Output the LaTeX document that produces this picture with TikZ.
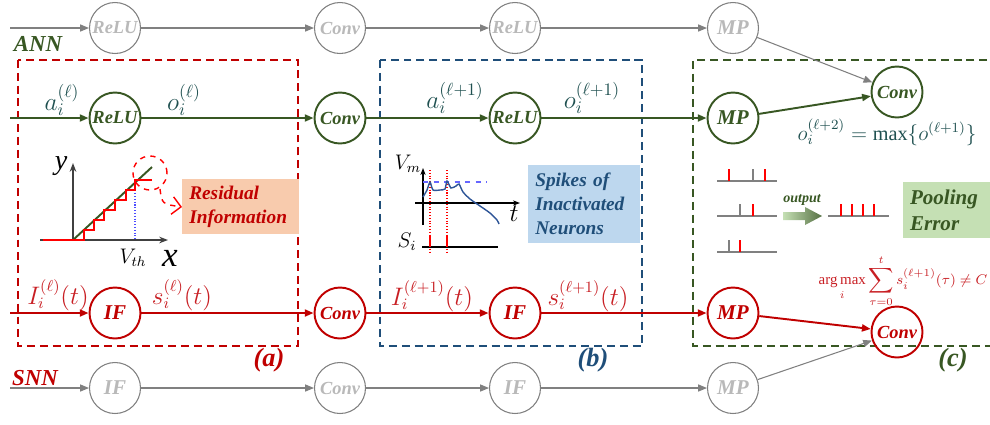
\documentclass[tikz,border=0pt]{standalone}
\usepackage{fontspec}
\setmainfont{Liberation Serif}
\definecolor{annc}{RGB}{56,87,35}
\definecolor{annt}{HTML}{1F5050}
\definecolor{snnc}{RGB}{192,0,0}
\definecolor{snnt}{RGB}{200,30,35}
\definecolor{greyl}{RGB}{128,128,128}
\definecolor{greyt}{RGB}{185,185,185}
\definecolor{boxblue}{RGB}{31,78,121}
\definecolor{peach}{RGB}{248,203,173}
\definecolor{paleblue}{RGB}{189,215,238}
\definecolor{palegreen}{RGB}{197,224,180}
\definecolor{curveblue}{RGB}{46,85,151}
\usetikzlibrary{arrows.meta,positioning,shapes.geometric}
\tikzset{
  neuron/.style={circle, minimum size=1.02cm, inner sep=0pt,
    font=\bfseries\itshape\fontsize{10.5}{12}\selectfont},
  annnode/.style={neuron, draw=annc, line width=1.1pt, text=annc},
  snnnode/.style={neuron, draw=snnc, line width=1.1pt, text=snnc},
  ghost/.style={neuron, draw=greyl, line width=0.6pt, text=greyt},
  aarrow/.style={-{Triangle[length=5pt,width=4pt]}, annc, line width=1.1pt},
  sarrow/.style={-{Triangle[length=5pt,width=4pt]}, snnc, line width=1.1pt},
  garrow/.style={-{Triangle[length=5pt,width=4pt]}, greyl, line width=0.6pt},
  dashbox/.style={dash pattern=on 4.5pt off 2.8pt, line width=1.2pt},
  tag/.style={inner sep=0pt, font=\bfseries\itshape\fontsize{13}{15}\selectfont},
  alab/.style={inner sep=0pt, text=annt, font=\fontsize{14}{16}\selectfont},
  slab/.style={inner sep=0pt, text=snnt, font=\fontsize{13.5}{16}\selectfont},
  note/.style={inner sep=4pt, align=left, font=\bfseries\itshape\fontsize{11}{13.5}\selectfont},
  spk/.style={line width=1.1pt}
}
\begin{document}
\begin{tikzpicture}[x=0.02cm,y=-0.02cm]
  \useasboundingbox (0,0) rectangle (990,424);
  % dashed regions
  \draw[dashbox,snnc] (18,60) rectangle (298,346);
  \draw[dashbox,boxblue] (380,60) rectangle (642,346);
  \draw[dashbox,annc] (1000,60) -- (693,60) -- (693,346) -- (1000,346);
  \node[tag,text=snnc,font=\bfseries\itshape\fontsize{15}{17}\selectfont] (taga) at (269,360) {(a)};
  \node[tag,text=boxblue,font=\bfseries\itshape\fontsize{15}{17}\selectfont] (tagb) at (593,360) {(b)};
  \node[tag,text=annc,font=\bfseries\itshape\fontsize{15}{17}\selectfont] (tagc) at (953,360) {(c)};
  \node[tag,text=annc] (ann) at (38,44) {ANN};
  \node[tag,text=snnc] (snn) at (35,378) {SNN};

  % ANN, converted copy (grey)
  \coordinate (g0) at (10,28);
  \node[ghost] (g1) at (115,28) {ReLU};
  \node[ghost] (g2) at (340,28) {Conv};
  \node[ghost] (g3) at (515,28) {ReLU};
  \node[ghost,font=\bfseries\itshape\fontsize{12}{14}\selectfont] (g4) at (733,28) {MP};
  % ANN
  \coordinate (a0) at (10,118);
  \node[annnode] (a1) at (115,118) {ReLU};
  \node[annnode] (a2) at (340,118) {Conv};
  \node[annnode] (a3) at (515,118) {ReLU};
  \node[annnode,font=\bfseries\itshape\fontsize{12}{14}\selectfont] (a4) at (733,118) {MP};
  \node[annnode] (a5) at (897,92) {Conv};
  % SNN
  \coordinate (s0) at (10,313);
  \node[snnnode,font=\bfseries\itshape\fontsize{12}{14}\selectfont] (s1) at (115,313) {IF};
  \node[snnnode] (s2) at (340,313) {Conv};
  \node[snnnode,font=\bfseries\itshape\fontsize{12}{14}\selectfont] (s3) at (515,313) {IF};
  \node[snnnode,font=\bfseries\itshape\fontsize{12}{14}\selectfont] (s4) at (733,313) {MP};
  \node[snnnode] (s5) at (897,332) {Conv};
  % SNN, grey copy
  \coordinate (b0) at (10,388);
  \node[ghost,font=\bfseries\itshape\fontsize{12}{14}\selectfont] (b1) at (115,388) {IF};
  \node[ghost] (b2) at (340,388) {Conv};
  \node[ghost,font=\bfseries\itshape\fontsize{12}{14}\selectfont] (b3) at (515,388) {IF};
  \node[ghost,font=\bfseries\itshape\fontsize{12}{14}\selectfont] (b4) at (733,388) {MP};

  \draw[garrow](g0)--(g1);\draw[garrow](g1)--(g2);\draw[garrow](g2)--(g3);\draw[garrow](g3)--(g4);\draw[garrow](g4)--(a5);
  \draw[aarrow](a0)--(a1);\draw[aarrow](a1)--(a2);\draw[aarrow](a2)--(a3);\draw[aarrow](a3)--(a4);\draw[aarrow](a4)--(a5);
  \draw[sarrow](s0)--(s1);\draw[sarrow](s1)--(s2);\draw[sarrow](s2)--(s3);\draw[sarrow](s3)--(s4);\draw[sarrow](s4)--(s5);
  \draw[garrow](b0)--(b1);\draw[garrow](b1)--(b2);\draw[garrow](b2)--(b3);\draw[garrow](b3)--(b4);\draw[garrow](b4)--(s5);

  % signal labels
  \node[alab] (la1) at (62,100) {$a_i^{(\ell)}$};
  \node[alab] (lo1) at (184,100) {$o_i^{(\ell)}$};
  \node[alab] (la2) at (455,98) {$a_i^{(\ell+1)}$};
  \node[alab] (lo2) at (592,98) {$o_i^{(\ell+1)}$};
  \node[slab] (li1) at (58,295) {$I_i^{(\ell)}(t)$};
  \node[slab] (ls1) at (182,295) {$s_i^{(\ell)}(t)$};
  \node[slab] (li2) at (432,296) {$I_i^{(\ell+1)}(t)$};
  \node[slab] (ls2) at (588,296) {$s_i^{(\ell+1)}(t)$};
  \node[alab,font=\fontsize{11.5}{14}\selectfont] (omax) at (887,132) {$o_i^{(\ell+2)}=\max\{o^{(\ell+1)}\}$};
  \node[slab,font=\fontsize{8.5}{10}\selectfont] (argm) at (903,281)
    {$\displaystyle\mathop{\arg\max}\limits_i\sum_{\tau=0}^{t}s_i^{(\ell+1)}(\tau)\neq C$};

  % (a) quantization graph
  \draw[-{Stealth[length=5pt]},black!75,line width=0.9pt] (40,240) -- (168,240);
  \draw[-{Stealth[length=5pt]},black!75,line width=0.9pt] (73,240) -- (73,163);
  \node[inner sep=0pt,font=\itshape\fontsize{16}{18}\selectfont] (ly) at (61,166) {y};
  \node[inner sep=0pt,font=\itshape\fontsize{20}{22}\selectfont] (lx) at (170,258) {x};
  \node[inner sep=0pt,font=\fontsize{12}{14}\selectfont] (lvth) at (133,258) {$V_{th}$};
  \draw[blue!70,densely dotted,line width=0.6pt] (135,182) -- (135,240);
  \draw[annc,line width=1.1pt] (73,240) -- (152,167);
  \draw[red,line width=1.1pt] (43,240) -- (84,240) -- (84,230) -- (94,230) -- (94,220) -- (104,220)
    -- (104,210) -- (115,210) -- (115,200) -- (126,200) -- (126,190) -- (135,190) -- (135,180) -- (152,180);
  \draw[red,dashed,line width=0.8pt] (150,173) circle[radius=0.34cm];
  \draw[red,dashed,line width=0.8pt,-{Straight Barb[length=5pt]}] (160,189) .. controls (162,204) .. (182,207);
  \node[note,fill=peach,text=snnc,minimum width=2.3cm,minimum height=1.1cm,text width=2.05cm] (resid) at (240.5,206.5) {Residual\\Information};

  % (b) membrane potential
  \draw[-{Stealth[length=4pt]},black,line width=0.8pt] (423,225) -- (423,168);
  \draw[-{Stealth[length=4pt]},black,line width=0.8pt] (415,203) -- (520,203);
  \draw[blue!60,dashed,line width=0.6pt] (423,182) -- (487,182);
  \draw[red,densely dotted,line width=0.6pt] (430,170) -- (430,253);
  \draw[red,densely dotted,line width=0.6pt] (447,170) -- (447,253);
  \draw[curveblue,line width=0.8pt] plot[smooth,tension=0.4] coordinates {(423,197) (427,190) (430,182) (433,190)
    (440,190) (445,189) (447,181) (451,188) (456,186) (459,184) (463,192) (470,199) (480,206) (490,213) (497,220) (499,224)};
  \draw[black,line width=0.8pt] (422,247) -- (498,247);
  \draw[red,spk] (430,235) -- (430,247);
  \draw[red,spk] (447,235) -- (447,247);
  \node[inner sep=0pt,font=\fontsize{12}{14}\selectfont] (lvm) at (408,164) {$V_m$};
  \node[inner sep=0pt,font=\fontsize{15}{17}\selectfont] (lt) at (514,214) {$t$};
  \node[inner sep=0pt,font=\fontsize{12}{14}\selectfont] (lsi) at (407,242) {$S_i$};
  \node[note,fill=paleblue,text=boxblue,minimum width=2.24cm,minimum height=1.56cm,text width=1.95cm] (spikes) at (584,204) {Spikes of\\Inactivated\\Neurons};

  % (c) pooling of spike trains
  \foreach \yy in {181,216,252} \draw[greyl,line width=0.9pt] (717,\yy) -- (777,\yy);
  \foreach \xx/\yy in {753/181,740/216,729/252} \draw[greyl,spk] (\xx,\yy-12) -- (\xx,\yy);
  \foreach \xx/\yy in {729/181,765/181,753/216,740/252} \draw[red,spk] (\xx,\yy-12) -- (\xx,\yy);
  \shade[left color=palegreen,right color=annc!85] (783,212) -- (805,212) -- (805,207) -- (822,216)
    -- (805,225) -- (805,220) -- (783,220) -- cycle;
  \node[inner sep=0pt,text=annc,font=\bfseries\itshape\fontsize{8}{9}\selectfont] (lout) at (802,200) {output};
  \draw[greyl,line width=0.9pt] (828,216) -- (889,216);
  \foreach \xx in {841,852,863,874} \draw[red,spk] (\xx,204) -- (\xx,216);
  \node[note,fill=palegreen,text=annc,minimum width=1.7cm,minimum height=1.08cm,text width=1.5cm,font=\bfseries\itshape\fontsize{12}{15}\selectfont] (perr) at (947.5,210) {Pooling\\Error};
\end{tikzpicture}
\end{document}
